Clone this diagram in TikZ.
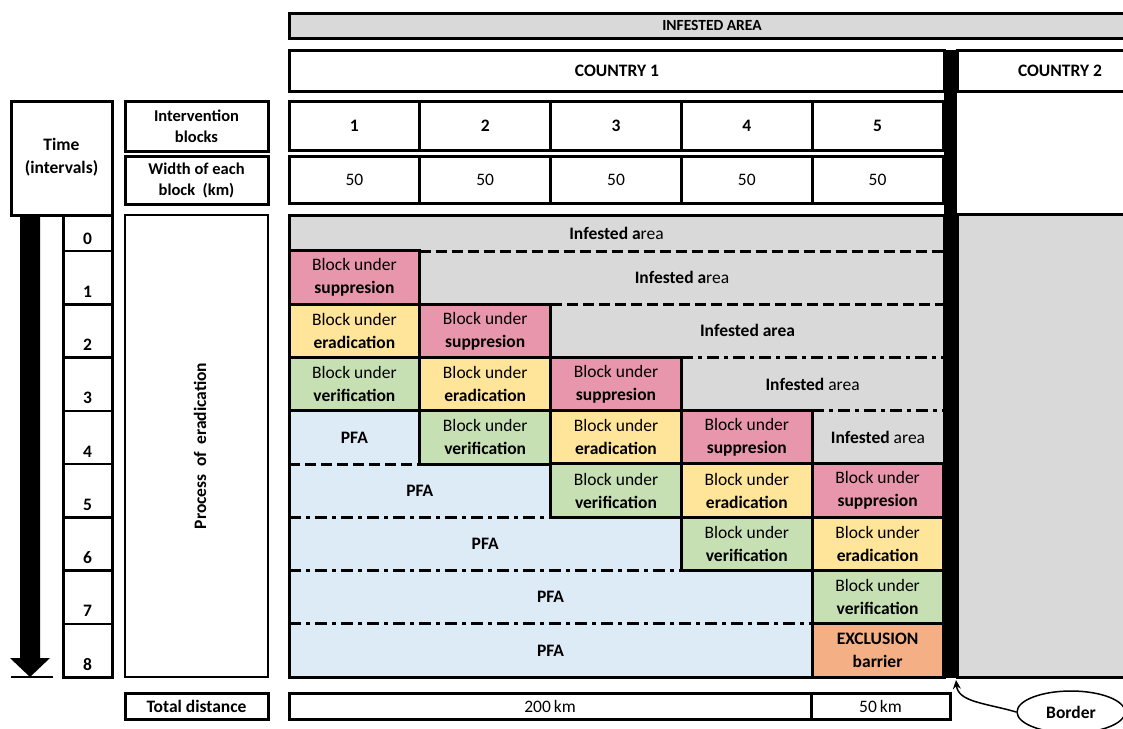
\documentclass[tikz,border=0pt]{standalone}
\usepackage{fontspec}
\setmainfont{Carlito}
\usetikzlibrary{arrows.meta,shapes.geometric}

\definecolor{grayA}{RGB}{217,217,217}
\definecolor{pinkA}{RGB}{232,150,171}
\definecolor{yellowA}{RGB}{255,229,153}
\definecolor{greenA}{RGB}{198,224,180}
\definecolor{blueA}{RGB}{221,235,247}
\definecolor{orangeA}{RGB}{244,176,132}

\begin{document}
\begin{tikzpicture}[x=1pt,y=-1pt]
	\tikzset{box/.style = {draw, line width=3pt}}
	\tikzset{txt/.style = {align=center, inner sep=0pt, font=\fontsize{17.5}{23}\selectfont}}
	\tikzset{boldtxt/.style = {align=center, inner sep=0pt, font=\fontsize{17.5}{23}\selectfont\bfseries}}
	\tikzset{cell/.style = {txt, draw, line width=3pt, minimum width=130.8pt, minimum height=53.25pt}}
	\tikzset{head/.style = {txt, draw, line width=3pt, minimum width=130.8pt}}
	\tikzset{dashln/.style = {line width=3pt, dash pattern=on 11pt off 5pt}}
	\tikzset{dotln/.style = {line width=3pt, dash pattern=on 12pt off 5pt on 4pt off 5pt}}

	\useasboundingbox (0,0) rectangle (1123,728);

	% countries
	\draw[box, fill=grayA] (289,13) rectangle (1140,38);
	\node[boldtxt, font=\fontsize{15.5}{18}\selectfont\bfseries] (infested) at (712,25.5) {INFESTED AREA};
	\draw[box] (289,50) rectangle (944,91);
	\draw[box] (957,50) rectangle (1140,91);
	\node[boldtxt] (country1) at (617,70.5) {COUNTRY 1};
	\node[boldtxt] (country2) at (1060,70.5) {COUNTRY 2};

	% headers
	\draw[box] (11,101) rectangle (112,215);
	\node[boldtxt] (time) at (61.5,157.5) {Time\\(intervals)};
	\draw[box] (125,101) rectangle (268,151);
	\node[boldtxt, font=\fontsize{16.5}{21}\selectfont\bfseries] (interv) at (196.5,126) {Intervention\\blocks};
	\draw[box] (125,156) rectangle (268,204);
	\node[boldtxt, font=\fontsize{16.5}{21}\selectfont\bfseries] (width) at (196.5,180) {Width of each\\block\ \ (km)};

	\node[head, minimum height=49pt] (blk1) at (354.4,125.5) {\textbf{1}};
	\node[head, minimum height=49pt] (blk2) at (485.2,125.5) {\textbf{2}};
	\node[head, minimum height=49pt] (blk3) at (616.0,125.5) {\textbf{3}};
	\node[head, minimum height=49pt] (blk4) at (746.8,125.5) {\textbf{4}};
	\node[head, minimum height=49pt] (blk5) at (877.6,125.5) {\textbf{5}};
	\node[head, minimum height=47pt] (wid1) at (354.4,179.5) {50};
	\node[head, minimum height=47pt] (wid2) at (485.2,179.5) {50};
	\node[head, minimum height=47pt] (wid3) at (616.0,179.5) {50};
	\node[head, minimum height=47pt] (wid4) at (746.8,179.5) {50};
	\node[head, minimum height=47pt] (wid5) at (877.6,179.5) {50};

	% time axis
	\fill (20,215) -- (40,215) -- (40,658) -- (50,658) -- (30,677) -- (10,658) -- (20,658) -- cycle;
	\draw[line width=2.5pt] (11,677) -- (53,677);
	\draw[box] (63,215) rectangle (112,677);
	\draw[line width=2.5pt] (63,251) -- (112,251) (63,304.25) -- (112,304.25) (63,357.5) -- (112,357.5)
		(63,410.75) -- (112,410.75) (63,464) -- (112,464) (63,517.25) -- (112,517.25)
		(63,570.5) -- (112,570.5) (63,623.75) -- (112,623.75);
	\node[boldtxt, anchor=base] (t0) at (87.5,244) {0};
	\node[boldtxt, anchor=base] (t1) at (87.5,297.25) {1};
	\node[boldtxt, anchor=base] (t2) at (87.5,350.5) {2};
	\node[boldtxt, anchor=base] (t3) at (87.5,403.75) {3};
	\node[boldtxt, anchor=base] (t4) at (87.5,457) {4};
	\node[boldtxt, anchor=base] (t5) at (87.5,510.25) {5};
	\node[boldtxt, anchor=base] (t6) at (87.5,563.5) {6};
	\node[boldtxt, anchor=base] (t7) at (87.5,616.75) {7};
	\node[boldtxt, anchor=base] (t8) at (87.5,670) {8};

	\draw[box, line width=2.5pt] (125,215) rectangle (268,677);
	\node[boldtxt, rotate=90] (process) at (200,446) {Process\hspace{0.2em} of\hspace{0.2em} eradication};

	% eradication grid
	\fill[grayA] (289,215) rectangle (944,677);
	\fill[blueA] (289,410.75) -- (419.8,410.75) -- (419.8,464) -- (550.6,464) -- (550.6,517.25) -- (681.4,517.25)
		-- (681.4,570.5) -- (812.2,570.5) -- (812.2,677) -- (289,677) -- cycle;
	\draw[dashln] (419.8,251) -- (944,251);
	\draw[dashln] (550.6,304.25) -- (944,304.25);
	\draw[dotln] (681.4,357.5) -- (944,357.5);
	\draw[dotln] (812.2,410.75) -- (944,410.75);
	\draw[dashln] (289,464) -- (419.8,464);
	\draw[dotln] (289,517.25) -- (550.6,517.25);
	\draw[dotln] (289,570.5) -- (681.4,570.5);
	\draw[dotln] (289,623.75) -- (812.2,623.75);

	\node[cell, fill=pinkA] (sup1) at (354.4,277.6) {Block under\\\textbf{suppresion}};
	\node[cell, fill=pinkA] (sup2) at (485.2,330.9) {Block under\\\textbf{suppresion}};
	\node[cell, fill=pinkA] (sup3) at (616.0,384.1) {Block under\\\textbf{suppresion}};
	\node[cell, fill=pinkA] (sup4) at (746.8,437.4) {Block under\\\textbf{suppresion}};
	\node[cell, fill=pinkA] (sup5) at (877.6,490.6) {Block under\\\textbf{suppresion}};
	\node[cell, fill=yellowA] (era1) at (354.4,330.9) {Block under\\\textbf{eradication}};
	\node[cell, fill=yellowA] (era2) at (485.2,384.1) {Block under\\\textbf{eradication}};
	\node[cell, fill=yellowA] (era3) at (616.0,437.4) {Block under\\\textbf{eradication}};
	\node[cell, fill=yellowA] (era4) at (746.8,490.6) {Block under\\\textbf{eradication}};
	\node[cell, fill=yellowA] (era5) at (877.6,543.9) {Block under\\\textbf{eradication}};
	\node[cell, fill=greenA] (ver1) at (354.4,384.1) {Block under\\\textbf{verification}};
	\node[cell, fill=greenA] (ver2) at (485.2,437.4) {Block under\\\textbf{verification}};
	\node[cell, fill=greenA] (ver3) at (616.0,490.6) {Block under\\\textbf{verification}};
	\node[cell, fill=greenA] (ver4) at (746.8,543.9) {Block under\\\textbf{verification}};
	\node[cell, fill=greenA] (ver5) at (877.6,597.1) {Block under\\\textbf{verification}};
	\node[cell, fill=orangeA] (excl) at (877.6,650.4) {\textbf{EXCLUSION}\\\textbf{barrier}};

	\node[txt] (inf0) at (616.5,233) {\textbf{Infested a}rea};
	\node[txt] (inf1) at (682,277.6) {\textbf{Infested a}rea};
	\node[txt] (inf2) at (747.5,330.9) {\textbf{Infested area}};
	\node[txt] (inf3) at (812.6,384.1) {\textbf{Infested} area};
	\node[txt] (inf4) at (878,437.4) {\textbf{Infested} area};
	\node[boldtxt] (pfa4) at (354.4,437.4) {PFA};
	\node[boldtxt] (pfa5) at (419.8,490.6) {PFA};
	\node[boldtxt] (pfa6) at (485.2,543.9) {PFA};
	\node[boldtxt] (pfa7) at (550.6,597.1) {PFA};
	\node[boldtxt] (pfa8) at (550.6,650.4) {PFA};

	\draw[box] (289,215) rectangle (944,677);
	\draw[box, fill=grayA] (957,214) rectangle (1140,677);
	\fill (944,50) rectangle (957,678);

	% distances
	\draw[box] (125,693) rectangle (268,719);
	\node[boldtxt] (total) at (196.5,706) {Total distance};
	\draw[box] (289,693) rectangle (811,719);
	\draw[box] (811,693) rectangle (950,719);
	\node[txt] (dist200) at (550,706) {200\,km};
	\node[txt] (dist50) at (880.5,706) {50\,km};

	% border
	\node[boldtxt, draw, ellipse, line width=1.5pt, minimum width=108pt, minimum height=42pt] (border) at (1071,712) {Border};
	\coordinate (bartip) at (956,680);
	\draw[line width=1.5pt, -{Stealth[length=9pt,width=8pt]}] (border.west) .. controls (985,703) and (958,702) .. (bartip);

\end{tikzpicture}
\end{document}
